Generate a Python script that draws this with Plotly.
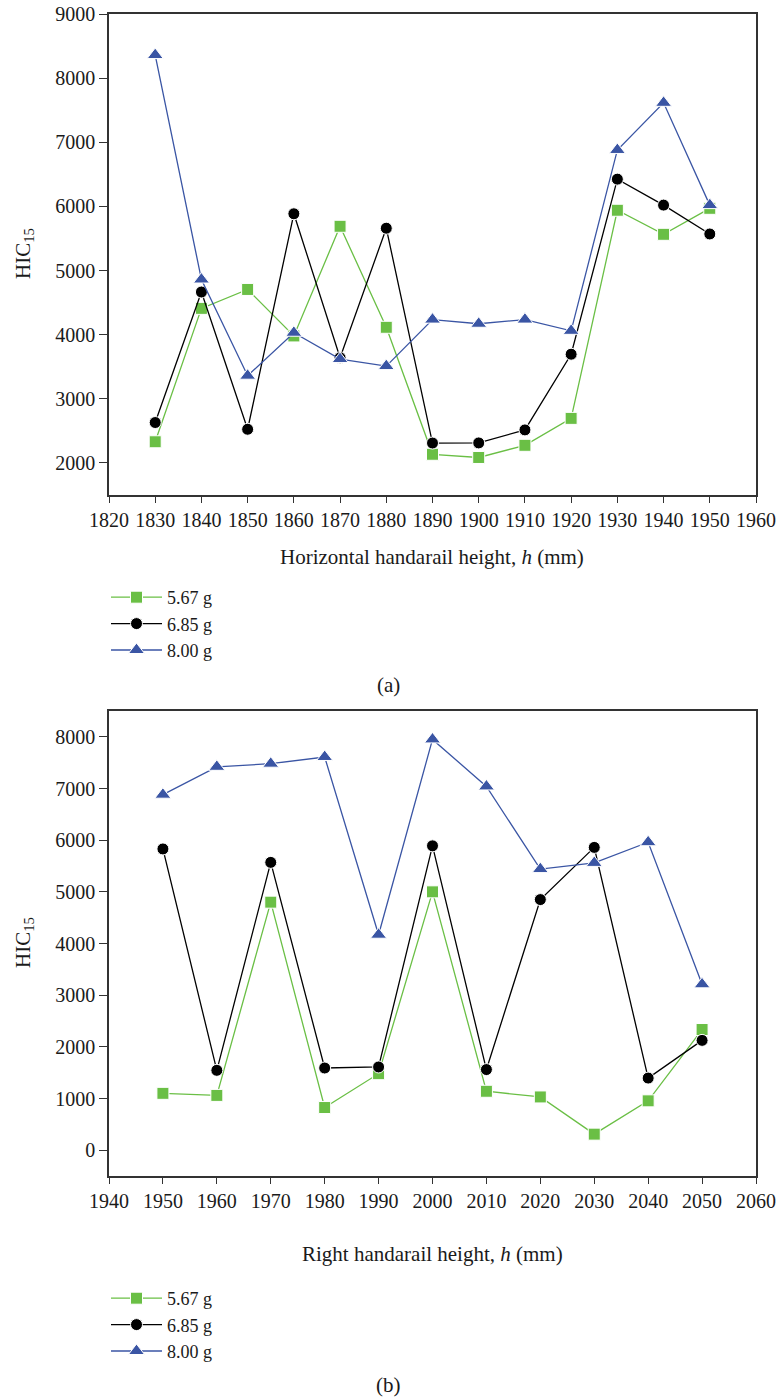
import plotly.graph_objects as go

W, H = 777, 1397

# ---- data (a): horizontal handrail ----
xa = [1830, 1840, 1850, 1860, 1870, 1880, 1890, 1900, 1910, 1920, 1930, 1940, 1950]
a_567 = [2330, 4410, 4705, 3980, 5690, 4115, 2135, 2085, 2275, 2695, 5940, 5565, 5970]
a_685 = [2630, 4665, 2525, 5885, 3640, 5660, 2310, 2312, 2515, 3695, 6425, 6020, 5570]
a_800 = [8360, 4860, 3360, 4030, 3620, 3510, 4235, 4170, 4235, 4060, 6880, 7615, 6020]

# ---- data (b): right handrail ----
xb = [1950, 1960, 1970, 1980, 1990, 2000, 2010, 2020, 2030, 2040, 2050]
b_567 = [1100, 1060, 4800, 825, 1480, 5000, 1140, 1030, 310, 955, 2335]
b_685 = [5830, 1545, 5570, 1590, 1610, 5890, 1560, 4850, 5860, 1395, 2125]
b_800 = [6880, 7420, 7480, 7610, 4170, 7950, 7040, 5440, 5560, 5960, 3210]

names = ["5.67 g", "6.85 g", "8.00 g"]
colors = ["#6abf45", "#000000", "#3a55a4"]
symbols = ["square", "circle", "triangle-up"]
msizes = [12, 12, 14]

FONT = "Liberation Serif"
FS = 20
fig = go.Figure()

for i, ys in enumerate([a_567, a_685, a_800]):
    fig.add_trace(go.Scatter(
        x=xa, y=ys, name=names[i], mode="lines+markers",
        line=dict(color=colors[i], width=1.3),
        marker=dict(symbol=symbols[i], size=msizes[i], color=colors[i],
                    line=dict(color="white", width=1)),
        xaxis="x", yaxis="y", legend="legend"))
for i, ys in enumerate([b_567, b_685, b_800]):
    fig.add_trace(go.Scatter(
        x=xb, y=ys, name=names[i], mode="lines+markers",
        line=dict(color=colors[i], width=1.3),
        marker=dict(symbol=symbols[i], size=msizes[i], color=colors[i],
                    line=dict(color="white", width=1)),
        xaxis="x2", yaxis="y2", legend="legend2"))

def px(x):
    return x / W

def py(y):
    return 1 - y / H

axis_common = dict(showline=True, linecolor="#333333", linewidth=1.5, mirror=True,
                   ticks="outside", tickcolor="#333333", tickwidth=1.2,
                   showgrid=False, zeroline=False, automargin=False,
                   tickfont=dict(family=FONT, size=FS, color="#1a1a1a"))

leg_common = dict(xanchor="left", yanchor="top", bgcolor="rgba(0,0,0,0)",
                  font=dict(family=FONT, size=18, color="#1a1a1a"),
                  tracegroupgap=0, itemwidth=51)

fig.update_layout(
    width=W, height=H,
    margin=dict(l=0, r=0, t=0, b=0, autoexpand=False),
    paper_bgcolor="white", plot_bgcolor="white",
    font=dict(family=FONT, size=FS, color="#1a1a1a"),
    xaxis=dict(domain=[px(109), px(756)], range=[1820, 1960], dtick=10, ticklen=6,
               anchor="y", **axis_common),
    yaxis=dict(domain=[py(495), py(14)], range=[1500, 9000], dtick=1000, tick0=0,
               ticklen=8, anchor="x", **axis_common),
    xaxis2=dict(domain=[px(109), px(756)], range=[1940, 2060], dtick=10, ticklen=6,
                anchor="y2", **axis_common),
    yaxis2=dict(domain=[py(1176), py(711)], range=[-500, 8500], dtick=1000, tick0=0,
                ticklen=8, anchor="x2", **axis_common),
    legend=dict(x=px(106), y=py(579), **leg_common),
    legend2=dict(x=px(106), y=py(1280), **leg_common),
    showlegend=True,
)

ann = [
    dict(text="Horizontal handarail height, <i>h</i> (mm)", x=px(432), y=py(557)),
    dict(text="Right handarail height, <i>h</i> (mm)", x=px(432), y=py(1254)),
    dict(text="(a)", x=px(389), y=py(685)),
    dict(text="(b)", x=px(389), y=py(1385)),
    dict(text="HIC<sub>15</sub>", x=px(24), y=py(254), textangle=-90),
    dict(text="HIC<sub>15</sub>", x=px(24), y=py(943), textangle=-90),
]
for a in ann:
    fig.add_annotation(xref="paper", yref="paper", showarrow=False,
                       xanchor="center", yanchor="middle",
                       font=dict(family=FONT, size=21, color="#1a1a1a"), **a)

fig.write_html("out.html")
